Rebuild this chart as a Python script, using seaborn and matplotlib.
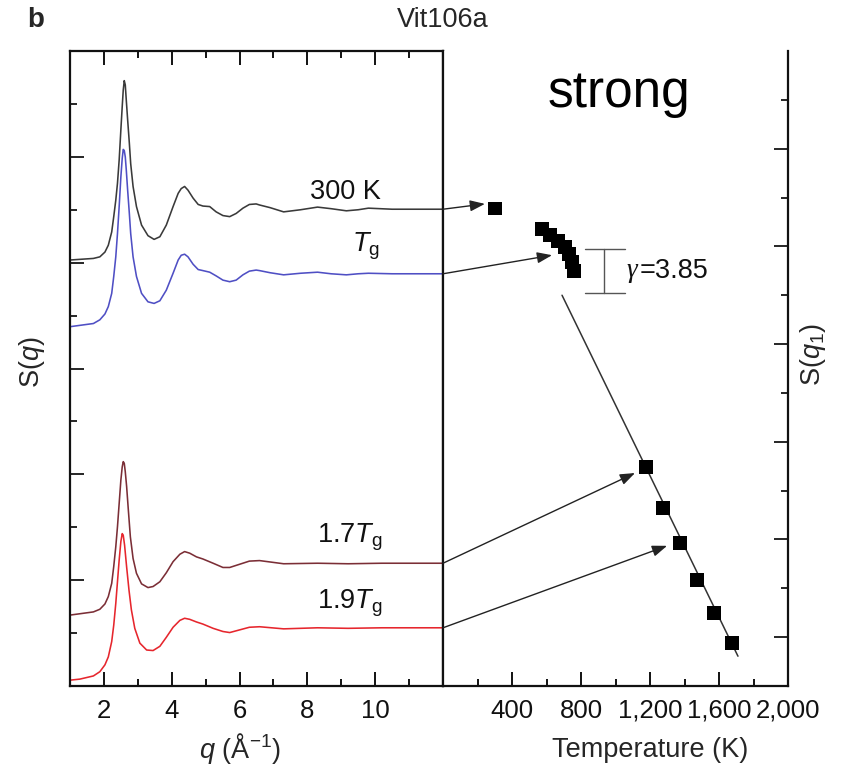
import numpy as np
import pandas as pd
import matplotlib
matplotlib.use("Agg")
import matplotlib.pyplot as plt
import seaborn as sns
from matplotlib.ticker import FixedLocator, FuncFormatter

# ---------------- data ----------------
q_300 = [1.0, 1.69, 1.88, 2.03, 2.13, 2.23, 2.29, 2.35, 2.40, 2.45, 2.50, 2.54, 2.57, 2.60, 2.63,
         2.66, 2.70, 2.75, 2.79, 2.86, 2.96, 3.11, 3.30, 3.48, 3.65, 3.84, 4.04, 4.19, 4.28, 4.38,
         4.48, 4.63, 4.78, 4.92, 5.12, 5.31, 5.51, 5.71, 5.90, 6.10, 6.29, 6.49, 6.59, 6.90, 7.30,
         7.80, 8.30, 8.70, 9.15, 9.50, 9.80, 10.5, 11.2, 12.0]
s_300 = [8.05, 8.08, 8.11, 8.20, 8.33, 8.58, 8.87, 9.18, 9.50, 9.94, 10.51, 10.95, 11.26, 11.44, 11.36,
         11.07, 10.70, 10.26, 9.87, 9.44, 9.06, 8.71, 8.51, 8.44, 8.49, 8.71, 9.06, 9.31, 9.40, 9.44,
         9.37, 9.22, 9.10, 9.07, 9.06, 8.96, 8.89, 8.87, 8.93, 9.03, 9.10, 9.11, 9.09, 9.04, 8.96,
         9.00, 9.05, 9.02, 8.98, 9.00, 9.03, 9.01, 9.01, 9.01]

q_tg = [1.0, 1.69, 1.88, 2.03, 2.13, 2.23, 2.29, 2.35, 2.40, 2.45, 2.50, 2.54, 2.57, 2.60, 2.63,
        2.66, 2.70, 2.75, 2.79, 2.86, 2.96, 3.11, 3.30, 3.48, 3.65, 3.84, 4.04, 4.19, 4.28, 4.38,
        4.48, 4.63, 4.78, 4.92, 5.12, 5.31, 5.51, 5.71, 5.90, 6.10, 6.29, 6.49, 6.59, 6.90, 7.30,
        7.80, 8.30, 8.70, 9.15, 9.50, 9.80, 10.5, 11.2, 12.0]
s_tg = [6.79, 6.85, 6.92, 7.03, 7.17, 7.42, 7.74, 8.11, 8.55, 9.06, 9.62, 9.97, 10.14, 10.12, 10.00,
        9.75, 9.37, 8.93, 8.55, 8.11, 7.74, 7.42, 7.26, 7.23, 7.28, 7.48, 7.80, 8.05, 8.14, 8.16,
        8.11, 7.97, 7.87, 7.85, 7.82, 7.75, 7.67, 7.64, 7.67, 7.77, 7.84, 7.86, 7.85, 7.81, 7.77,
        7.80, 7.82, 7.79, 7.77, 7.79, 7.80, 7.79, 7.79, 7.79]

q_17 = [1.0, 1.69, 1.88, 2.03, 2.13, 2.23, 2.29, 2.35, 2.40, 2.45, 2.50, 2.54, 2.57, 2.60, 2.63,
        2.67, 2.72, 2.78, 2.86, 2.96, 3.11, 3.30, 3.45, 3.65, 3.84, 4.04, 4.24, 4.38, 4.53, 4.73,
        4.92, 5.22, 5.51, 5.71, 6.00, 6.29, 6.59, 7.30, 8.30, 9.20, 10.2, 11.1, 12.0]
s_17 = [1.34, 1.40, 1.45, 1.55, 1.69, 1.94, 2.26, 2.63, 3.01, 3.45, 3.89, 4.14, 4.24, 4.21, 4.05,
        3.77, 3.33, 2.82, 2.41, 2.13, 1.93, 1.86, 1.88, 1.97, 2.14, 2.35, 2.49, 2.54, 2.51, 2.44,
        2.40, 2.32, 2.24, 2.24, 2.30, 2.36, 2.37, 2.31, 2.32, 2.31, 2.32, 2.32, 2.32]

q_19 = [1.0, 1.29, 1.69, 1.88, 2.03, 2.13, 2.23, 2.29, 2.35, 2.40, 2.45, 2.50, 2.54, 2.57, 2.61,
        2.67, 2.74, 2.81, 2.91, 3.06, 3.26, 3.45, 3.65, 3.84, 4.04, 4.24, 4.38, 4.53, 4.73, 4.92,
        5.22, 5.51, 5.71, 6.00, 6.29, 6.59, 7.30, 8.30, 9.20, 10.2, 11.1, 12.0]
s_19 = [0.11, 0.13, 0.19, 0.27, 0.40, 0.55, 0.84, 1.15, 1.56, 1.97, 2.38, 2.73, 2.88, 2.85, 2.66,
        2.25, 1.81, 1.44, 1.09, 0.81, 0.68, 0.67, 0.75, 0.92, 1.11, 1.24, 1.28, 1.26, 1.21, 1.17,
        1.09, 1.03, 1.01, 1.06, 1.11, 1.12, 1.08, 1.10, 1.09, 1.10, 1.10, 1.10]

T_300 = [300]
S1_300 = [9.78]
T_tg = [574, 620, 667, 707, 730, 748, 759]
S1_tg = [9.36, 9.23, 9.11, 8.99, 8.84, 8.68, 8.50]
T_hi = [1177, 1275, 1374, 1472, 1571, 1675]
S1_hi = [4.48, 3.64, 2.93, 2.17, 1.49, 0.88]
fit_T = [690, 1710]
fit_S = [8.00, 0.61]

gamma_text = "=3.85"
curve_labels = ["300 K", r"$T_{\rm g}$", r"1.7$T_{\rm g}$", r"1.9$T_{\rm g}$"]
T_ticks = [400, 800, 1200, 1600, 2000]

# ---------------- style ----------------
sns.set_theme(style="white")
plt.rcParams["font.family"] = ["Liberation Sans", "DejaVu Sans"]
plt.rcParams["mathtext.fontset"] = "custom"
plt.rcParams["mathtext.rm"] = "Liberation Sans"
plt.rcParams["mathtext.it"] = "Liberation Sans:italic"
plt.rcParams["mathtext.bf"] = "Liberation Sans:bold"
FS = 19.5
TFS = 18.5

W, H = 842, 770
fig = plt.figure(figsize=(W / 100, H / 100), dpi=100)
left, right_px, div_px, top_px, bot_px = 70, 788, 443, 51, 686
ax1 = fig.add_axes([left / W, 1 - bot_px / H, (div_px - left) / W, (bot_px - top_px) / H])
ax2 = fig.add_axes([div_px / W, 1 - bot_px / H, (right_px - div_px) / W, (bot_px - top_px) / H])

# ---------------- left panel ----------------
colors = ["#3a3a3a", "#4f4fc4", "#7b2e36", "#e6262d"]
series = [(q_300, s_300), (q_tg, s_tg), (q_17, s_17), (q_19, s_19)]
for (qq, ss), c in zip(series, colors):
    sns.lineplot(x=qq, y=ss, ax=ax1, color=c, lw=1.15, sort=False, estimator=None)

ax1.set_xlim(1, 12)
ax1.set_ylim(0, 12)
ax1.xaxis.set_major_locator(FixedLocator([2, 4, 6, 8, 10]))
ax1.xaxis.set_minor_locator(FixedLocator([3, 5, 7, 9, 11]))
ax1.yaxis.set_major_locator(FixedLocator([2, 4, 6, 8, 10]))
ax1.yaxis.set_minor_locator(FixedLocator([1, 3, 5, 7, 9, 11]))
ax1.tick_params(axis="x", which="both", direction="in", top=True, bottom=True,
                labelsize=TFS, pad=9, colors="#111111")
ax1.tick_params(axis="y", which="both", direction="in", left=True, right=False,
                labelleft=False)
ax1.tick_params(which="major", length=10, width=1.4)
ax1.tick_params(which="minor", length=5, width=1.4)
ax1.set_xlabel("")
ax1.set_ylabel("")
for sp in ax1.spines.values():
    sp.set_linewidth(1.6)
    sp.set_color("#111111")

lab_pos = [(9.12, 9.33), (9.72, 8.30), (9.24, 2.80), (9.24, 1.57)]
for lab, (xq, yq) in zip(curve_labels, lab_pos):
    ax1.text(xq, yq, lab, fontsize=FS, ha="center", va="center", color="#111111")

# ---------------- right panel ----------------
pts = pd.DataFrame({"T": T_300 + T_tg + T_hi, "S": S1_300 + S1_tg + S1_hi})
sns.lineplot(x=fit_T, y=fit_S, ax=ax2, color="#333333", lw=1.1, sort=False, estimator=None)
sns.scatterplot(data=pts, x="T", y="S", ax=ax2, marker="s", s=95, color="black",
                edgecolor="none", zorder=5)

ax2.set_xlim(0, 2000)
ax2.set_ylim(0, 13)
ax2.xaxis.set_major_locator(FixedLocator(T_ticks))
ax2.xaxis.set_minor_locator(FixedLocator([200, 600, 1000, 1400, 1800]))
ax2.xaxis.set_major_formatter(FuncFormatter(lambda v, p: f"{int(v):,}"))
ax2.yaxis.set_major_locator(FixedLocator([1, 3, 5, 7, 9, 11]))
ax2.yaxis.set_minor_locator(FixedLocator([2, 4, 6, 8, 10, 12]))
ax2.tick_params(axis="x", which="both", direction="in", bottom=True, top=False,
                labelsize=TFS, pad=9, colors="#111111")
ax2.tick_params(axis="y", which="both", direction="in", left=False, right=True,
                labelleft=False, labelright=False)
ax2.tick_params(which="major", length=10, width=1.4)
ax2.tick_params(which="minor", length=5, width=1.4)
ax2.set_xlabel("")
ax2.set_ylabel("")
ax2.spines["top"].set_visible(False)
for sp in ax2.spines.values():
    sp.set_linewidth(1.6)
    sp.set_color("#111111")

# gamma bracket
bc = "#555555"
ax2.plot([933, 933], [8.05, 8.95], color=bc, lw=1.0)
ax2.plot([823, 1055], [8.95, 8.95], color=bc, lw=1.0)
ax2.plot([823, 1055], [8.05, 8.05], color=bc, lw=1.0)
ax2.text(1062, 8.50, "γ", fontsize=FS, family="Liberation Serif", style="italic",
         ha="left", va="center", color="#111111")
ax2.text(1140, 8.50, gamma_text, fontsize=FS, ha="left", va="center", color="#111111")
ax2.text(609, 12.14, "strong", fontsize=37, ha="left", va="center", color="black")

# arrows from curves to points
arrows = [((12, 9.01), (243, 9.87)),
          ((12, 7.79), (632, 8.82)),
          ((12, 2.32), (1113, 4.36)),
          ((12, 1.10), (1299, 2.87))]
for (xs, ys), (xe, ye) in arrows:
    ax2.annotate("", xy=(xe, ye), xycoords=ax2.transData,
                 xytext=(xs, ys), textcoords=ax1.transData,
                 arrowprops=dict(arrowstyle="-|>,head_length=0.75,head_width=0.28",
                                 color="#222222", lw=1.0, shrinkA=0, shrinkB=0),
                 annotation_clip=False)

# ---------------- figure texts ----------------
fig.text(27 / W, 1 - 20 / H, "b", fontsize=20, fontweight="bold", ha="left", va="center")
fig.text(443 / W, 1 - 20 / H, "Vit106a", fontsize=FS, ha="center", va="center")
fig.text(32 / W, 1 - 362 / H, r"S($q$)", fontsize=FS, rotation=90, ha="center", va="center")
fig.text(813 / W, 1 - 355 / H, r"S($q_1$)", fontsize=FS, rotation=90, ha="center", va="center")
fig.text(240 / W, 1 - 749 / H, r"$q$ (Å$^{-1}$)", fontsize=FS, ha="center", va="center")
fig.text(650 / W, 1 - 750 / H, "Temperature (K)", fontsize=FS, ha="center", va="center")

fig.savefig("out.png", dpi=100)
